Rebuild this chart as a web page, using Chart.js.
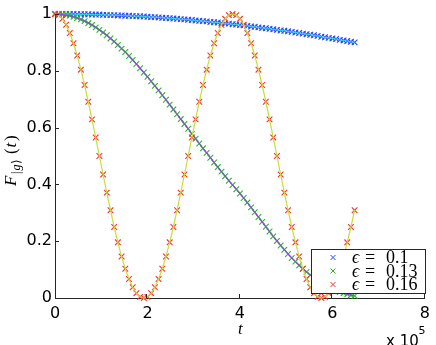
<!DOCTYPE html>
<html>
<head>
<meta charset="utf-8">
<script src="https://cdn.jsdelivr.net/npm/chart.js@4.4.0/dist/chart.umd.min.js"></script>
<style>
  html, body { margin: 0; padding: 0; background: #fff; }
  #c { display: block; }
</style>
</head>
<body>
<canvas id="c" width="436" height="345"></canvas>
<script>
// temps (en unités de 10^5)
const tValues = [
  0, 0.08, 0.16, 0.24, 0.32, 0.4, 0.48, 0.56, 0.64, 0.72,
  0.8, 0.88, 0.96, 1.04, 1.12, 1.2, 1.28, 1.36, 1.44, 1.52,
  1.6, 1.68, 1.76, 1.84, 1.92, 2, 2.08, 2.16, 2.24, 2.32,
  2.4, 2.48, 2.56, 2.64, 2.72, 2.8, 2.88, 2.96, 3.04, 3.12,
  3.2, 3.28, 3.36, 3.44, 3.52, 3.6, 3.68, 3.76, 3.84, 3.92,
  4, 4.08, 4.16, 4.24, 4.32, 4.4, 4.48, 4.56, 4.64, 4.72,
  4.8, 4.88, 4.96, 5.04, 5.12, 5.2, 5.28, 5.36, 5.44, 5.52,
  5.6, 5.68, 5.76, 5.84, 5.92, 6, 6.08, 6.16, 6.24, 6.32,
  6.4, 6.48
];
// eps = 0.1
const blueValues = [
  1, 1, 1, 1, 1, 1, 0.999, 0.999, 0.999, 0.999,
  0.998, 0.998, 0.998, 0.997, 0.997, 0.996, 0.996, 0.995, 0.995, 0.994,
  0.994, 0.993, 0.992, 0.992, 0.991, 0.990, 0.989, 0.989, 0.988, 0.987,
  0.986, 0.985, 0.984, 0.983, 0.982, 0.981, 0.980, 0.979, 0.977, 0.976,
  0.975, 0.974, 0.972, 0.971, 0.970, 0.968, 0.967, 0.966, 0.964, 0.963,
  0.961, 0.960, 0.958, 0.956, 0.955, 0.953, 0.951, 0.950, 0.948, 0.946,
  0.944, 0.942, 0.941, 0.939, 0.937, 0.935, 0.933, 0.931, 0.929, 0.927,
  0.925, 0.923, 0.920, 0.918, 0.916, 0.914, 0.912, 0.909, 0.907, 0.905,
  0.902, 0.900
];
// eps = 0.13
const greenValues = [
  1, 1, 0.998, 0.996, 0.994, 0.990, 0.986, 0.981, 0.975, 0.968,
  0.961, 0.953, 0.944, 0.935, 0.925, 0.914, 0.903, 0.891, 0.878, 0.866,
  0.852, 0.838, 0.824, 0.809, 0.794, 0.779, 0.763, 0.747, 0.731, 0.714,
  0.698, 0.681, 0.664, 0.647, 0.630, 0.613, 0.596, 0.578, 0.561, 0.544,
  0.527, 0.511, 0.494, 0.477, 0.461, 0.445, 0.429, 0.413, 0.398, 0.383,
  0.368, 0.352, 0.336, 0.319, 0.302, 0.285, 0.268, 0.251, 0.234, 0.217,
  0.201, 0.185, 0.170, 0.155, 0.141, 0.128, 0.115, 0.103, 0.092, 0.081,
  0.071, 0.062, 0.053, 0.045, 0.038, 0.032, 0.026, 0.021, 0.017, 0.013,
  0.010, 0.008
];
// eps = 0.16
const redValues = [
  1, 0.996, 0.983, 0.962, 0.933, 0.897, 0.854, 0.804, 0.75, 0.691,
  0.629, 0.565, 0.5, 0.435, 0.371, 0.309, 0.25, 0.196, 0.146, 0.103,
  0.067, 0.038, 0.017, 0.004, 0, 0.004, 0.017, 0.038, 0.067, 0.103,
  0.146, 0.196, 0.25, 0.309, 0.371, 0.435, 0.5, 0.565, 0.629, 0.691,
  0.75, 0.804, 0.854, 0.897, 0.933, 0.962, 0.983, 0.996, 1, 0.996,
  0.983, 0.962, 0.933, 0.897, 0.854, 0.804, 0.75, 0.691, 0.629, 0.565,
  0.5, 0.435, 0.371, 0.309, 0.25, 0.196, 0.146, 0.103, 0.067, 0.038,
  0.017, 0.004, 0, 0.004, 0.017, 0.038, 0.067, 0.103, 0.146, 0.196,
  0.25, 0.309
];
const epsLabels = ['0.1', '0.13', '0.16'];
const xTicks = [0, 2, 4, 6, 8];
const yTicks = [0, 0.2, 0.4, 0.6, 0.8, 1];

const markColors = ['#2846ff', '#2eb52e', '#ff2c2c'];
const lineColors = ['#2fd0dc', '#8a4cd6', '#c6de38'];
const axisColor = '#262626';

function pts(ys) {
  return tValues.map((t, i) => ({ x: t, y: ys[i] }));
}

function markSet(ys, color, order) {
  return { data: pts(ys), showLine: false, pointStyle: 'crossRot', pointRadius: 4,
    pointBorderWidth: 1.1, borderColor: color, backgroundColor: color, order, clip: false };
}
function lineSet(ys, color, order) {
  return { data: pts(ys), showLine: true, pointRadius: 0, borderWidth: 1.2,
    borderColor: color, backgroundColor: color, tension: 0, order, clip: false };
}

// ticks vers l'intérieur, légende et titres des axes
const decor = {
  id: 'decor',
  afterDatasetsDraw(chart) {
    const { ctx, chartArea, scales } = chart;
    const x = scales.x, y = scales.y;
    ctx.save();
    ctx.strokeStyle = axisColor;
    ctx.lineWidth = 1;
    xTicks.forEach(v => {
      if (v === 0) return;
      const px = Math.round(x.getPixelForValue(v)) - 0.5;
      ctx.beginPath(); ctx.moveTo(px, chartArea.bottom); ctx.lineTo(px, chartArea.bottom - 4); ctx.stroke();
    });
    yTicks.forEach(v => {
      if (v === 0) return;
      const py = Math.round(y.getPixelForValue(v)) + 0.5;
      ctx.beginPath(); ctx.moveTo(chartArea.left, py); ctx.lineTo(chartArea.left + 4, py); ctx.stroke();
    });

    // légende
    ctx.fillStyle = '#fff';
    ctx.fillRect(311.5, 249.5, 114, 44);
    ctx.strokeStyle = axisColor;
    ctx.strokeRect(311.5, 249.5, 114, 44);
    const rows = [257.5, 271, 284.5];
    rows.forEach((ry, i) => {
      ctx.strokeStyle = markColors[i];
      ctx.beginPath();
      ctx.moveTo(330.5, ry - 2.5); ctx.lineTo(335.5, ry + 2.5);
      ctx.moveTo(335.5, ry - 2.5); ctx.lineTo(330.5, ry + 2.5);
      ctx.stroke();
      ctx.fillStyle = '#000';
      ctx.textBaseline = 'alphabetic';
      ctx.textAlign = 'left';
      ctx.font = 'italic 18px "Liberation Serif", "DejaVu Serif"';
      ctx.fillText('\u03F5', 352, ry + 5.5);
      ctx.font = '18px "Liberation Serif"';
      ctx.fillText('=', 365, ry + 5.5);
      ctx.fillText(epsLabels[i], 386, ry + 5.5);
    });
    ctx.restore();
  },
  afterDraw(chart) {
    const { ctx } = chart;
    ctx.save();
    ctx.fillStyle = '#000';
    ctx.textAlign = 'left';
    ctx.textBaseline = 'alphabetic';
    // titre x
    ctx.font = 'italic 17px "Liberation Serif"';
    ctx.fillText('t', 238, 334);
    // exposant
    ctx.font = '15px "DejaVu Sans"';
    ctx.fillText('x 10', 386, 346);
    ctx.font = '11px "DejaVu Sans"';
    ctx.fillText('5', 418.5, 334);
    // titre y, tourné
    ctx.translate(16, 186);
    ctx.rotate(-Math.PI / 2);
    ctx.font = 'italic 17px "Liberation Serif"';
    ctx.fillText('F', 0, 0);
    ctx.font = '12px "Liberation Serif"';
    ctx.fillText('|', 12, 3.5);
    ctx.font = 'italic 12px "Liberation Serif"';
    ctx.fillText('g', 15.5, 3.5);
    ctx.font = '12px "DejaVu Sans"';
    ctx.fillText('\u27E9', 22, 3.5);
    ctx.font = '17px "Liberation Serif"';
    ctx.fillText('(', 32, 0);
    ctx.font = 'italic 17px "Liberation Serif"';
    ctx.fillText('t', 38.5, 0);
    ctx.font = '17px "Liberation Serif"';
    ctx.fillText(')', 45, 0);
    ctx.restore();
  }
};

const tickFont = { family: 'DejaVu Sans', size: 16 };

new Chart(document.getElementById('c'), {
  type: 'scatter',
  data: {
    datasets: [
      lineSet(redValues, lineColors[2], 1),
      lineSet(greenValues, lineColors[1], 2),
      lineSet(blueValues, lineColors[0], 3),
      markSet(redValues, markColors[2], 4),
      markSet(greenValues, markColors[1], 5),
      markSet(blueValues, markColors[0], 6)
    ]
  },
  options: {
    responsive: false,
    animation: false,
    layout: { padding: { top: 14, right: 10, left: 0, bottom: 0 } },
    plugins: { legend: { display: false }, tooltip: { enabled: false } },
    scales: {
      x: {
        type: 'linear', min: 0, max: 8,
        afterBuildTicks: s => { s.ticks = xTicks.map(v => ({ value: v })); },
        afterFit: s => { s.height = 47; },
        grid: { display: true, drawOnChartArea: false, drawTicks: false },
        border: { display: true, color: axisColor, width: 1 },
        ticks: { font: tickFont, color: '#000', padding: 6, maxRotation: 0,
          callback: v => String(v) }
      },
      y: {
        type: 'linear', min: 0, max: 1,
        afterBuildTicks: s => { s.ticks = yTicks.map(v => ({ value: v })); },
        afterFit: s => { s.width = 55; },
        grid: { display: true, drawOnChartArea: false, drawTicks: false },
        border: { display: true, color: axisColor, width: 1 },
        ticks: { font: tickFont, color: '#000', padding: 3,
          callback: v => String(Math.round(v * 10) / 10) }
      }
    }
  },
  plugins: [decor]
});
</script>
</body>
</html>
